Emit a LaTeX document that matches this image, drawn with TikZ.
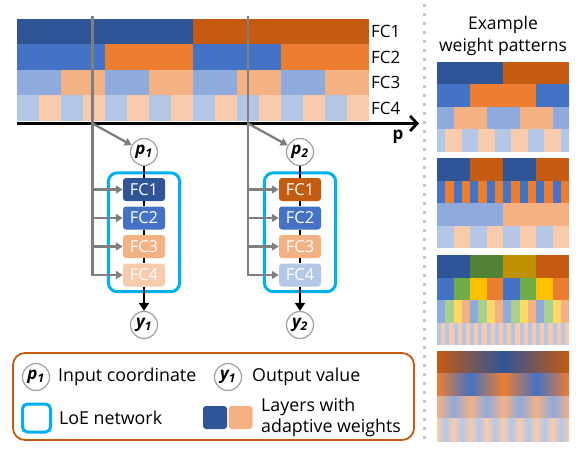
\documentclass[tikz,border=0pt]{standalone}
\usepackage{fontspec}
\setmainfont{Open Sans}
\usetikzlibrary{arrows.meta,fit}

\definecolor{dblue}{HTML}{2F5597}
\definecolor{dorange}{HTML}{C55A11}
\definecolor{mblue}{HTML}{4472C4}
\definecolor{morange}{HTML}{ED7D31}
\definecolor{lblue}{HTML}{8FAADC}
\definecolor{lorange}{HTML}{F4B183}
\definecolor{llblue}{HTML}{B4C7E7}
\definecolor{llorange}{HTML}{F8CBAD}
\definecolor{dgreen}{HTML}{548235}
\definecolor{mgreen}{HTML}{70AD47}
\definecolor{lgreen}{HTML}{A9D18E}
\definecolor{dgold}{HTML}{BF9000}
\definecolor{mgold}{HTML}{FFC000}
\definecolor{lgold}{HTML}{FFD966}
\definecolor{loe}{HTML}{00B0F0}
\definecolor{feedgray}{HTML}{7F7F7F}

\begin{document}
\begin{tikzpicture}[x=1pt,y=-1pt,
    fcbox/.style={rounded corners=3pt,minimum width=42pt,minimum height=23pt,inner sep=0pt,text=white,font=\fontsize{16.5}{16.5}\selectfont},
    io/.style={circle,draw=gray!75,line width=1.2pt,fill=white,minimum size=27pt,inner sep=0pt,font=\fontsize{17}{17}\selectfont\bfseries\itshape},
    loebox/.style={draw=loe,line width=3pt,rounded corners=9pt,inner xsep=14.5pt,inner ysep=5pt},
    feed/.style={draw=feedgray,line width=2.3pt,-{Triangle[length=7pt,width=8pt]}},
    link/.style={line width=2.8pt},
    lbl/.style={font=\fontsize{17}{17}\selectfont,anchor=west,inner sep=0pt},
    txt/.style={font=\fontsize{17.8}{21}\selectfont,anchor=west,inner sep=0pt,align=left}]

\useasboundingbox (0,0) rectangle (585,449);

% weight bars along p
\foreach \y/\h/\w/\ca/\cb in {19/1/176/dblue/dorange,44.5/2/88/mblue/morange,70/4/44/lblue/lorange,95.5/8/22/llblue/llorange}
  \foreach \i in {1,...,\h}{
    \fill[\ca] ({17+(2*\i-2)*\w},\y) rectangle ++(\w,25.5);
    \fill[\cb] ({17+(2*\i-1)*\w},\y) rectangle ++(\w,25.5);
  }
\foreach \k/\y in {1/31.5,2/57,3/82.5,4/108}
  \node[lbl] (fc\k) at (371,\y) {FC\k};

% axis
\coordinate (ax0) at (17,123.5);
\coordinate (ax1) at (419,123.5);
\draw[link,-{Straight Barb[length=7pt,width=15pt]}] (ax0) -- (ax1);
\node[font=\fontsize{17}{17}\selectfont\bfseries] (p) at (398,137) {p};

% two LoE networks
\foreach \n/\x/\g/\ca/\cb/\cc/\cd in {1/144/92.5/dblue/mblue/lorange/llorange,2/300/248/dorange/mblue/lorange/llblue}{
  \node[io] (p\n) at (\x,152) {p\textsubscript{\n}};
  \node[fcbox,fill=\ca] (a\n1) at (\x,189.5) {FC1};
  \node[fcbox,fill=\cb] (a\n2) at (\x,218) {FC2};
  \node[fcbox,fill=\cc] (a\n3) at (\x,246.5) {FC3};
  \node[fcbox,fill=\cd] (a\n4) at (\x,275) {FC4};
  \node[loebox,fit=(a\n1)(a\n4)] (net\n) {};
  \node[io] (y\n) at (\x,325) {y\textsubscript{\n}};
  \draw[link] (p\n) -- (a\n1) -- (a\n2) -- (a\n3) -- (a\n4);
  \draw[link,-{Triangle[length=8pt,width=10pt]}] (a\n4) -- (y\n);
  \coordinate (t\n) at (\g,16);
  \coordinate (c\n) at (\g,123.5);
  \draw[feed] (t\n) |- (a\n4);
  \foreach \k in {1,2,3}
    \draw[feed] (t\n |- a\n\k) -- (a\n\k);
  \draw[feed] (c\n) -- (p\n);
}

% legend
\draw[dorange,line width=1.8pt,rounded corners=12pt] (13,353) rectangle (414,440);
\node[io] (lp) at (36,377) {p\textsubscript{1}};
\node[txt] (lpt) at (58,377) {Input coordinate};
\node[io] (ly) at (228,377) {y\textsubscript{1}};
\node[txt] (lyt) at (252,377) {Output value};
\node[draw=loe,line width=3pt,rounded corners=5pt,minimum size=28pt] (lnet) at (36.5,418) {};
\node[txt] (lnett) at (59,418) {LoE network};
\node[fill=dblue,rounded corners=3pt,minimum width=24pt,minimum height=23pt] (lw1) at (215,417.5) {};
\node[fill=lorange,rounded corners=3pt,minimum width=24pt,minimum height=23pt] (lw2) at (240.5,417.5) {};
\node[txt] (lwt) at (261,417.5) {Layers with\\adaptive weights};

% example patterns
\draw[gray!45,line width=3pt,dash pattern=on 3pt off 6pt] (424,4) -- (424,440);
\node[align=center,font=\fontsize{17.5}{22}\selectfont] (title) at (503,36) {Example\\weight patterns};

\begin{scope}
  \clip (437,0) rectangle (569,449);
  \foreach \y/\x/\w/\h/\ca/\cb in {62/437/66/1/dblue/dorange,84.5/404/66/2/mblue/morange,107/420.5/33/3/lblue/lorange,129.5/428.75/16.5/5/llblue/llorange,
      158/437/33/2/dblue/dorange,180.5/437/8.25/8/mblue/morange,203/437/66/1/lblue/lorange,225.5/437/16.5/4/llblue/llorange,
      322.5/437/4.125/16/llblue/llorange}
    \foreach \i in {1,...,\h}{
      \fill[\ca] ({\x+(2*\i-2)*\w},\y) rectangle ++(\w,22.5);
      \fill[\cb] ({\x+(2*\i-1)*\w},\y) rectangle ++(\w,22.5);
    }
  \foreach \y/\w/\h/\ca/\cb/\cc/\cd in {255/33/1/dblue/dgreen/dgold/dorange,277.5/16.5/2/mblue/mgreen/mgold/morange,300/8.25/4/lblue/lgreen/lgold/lorange}
    \foreach \i in {1,...,\h}{
      \fill[\ca] ({437+(4*\i-4)*\w},\y) rectangle ++(\w,22.5);
      \fill[\cb] ({437+(4*\i-3)*\w},\y) rectangle ++(\w,22.5);
      \fill[\cc] ({437+(4*\i-2)*\w},\y) rectangle ++(\w,22.5);
      \fill[\cd] ({437+(4*\i-1)*\w},\y) rectangle ++(\w,22.5);
    }
  \foreach \y/\w/\h/\ca/\cb in {351/66/1/dorange/dblue,373.5/33/2/morange/mblue,396/16.5/4/lorange/lblue,418.5/8.25/8/llorange/llblue}
    \foreach \i in {1,...,\h}{
      \shade[left color=\ca,right color=\cb] ({437+(2*\i-2)*\w},\y) rectangle ++(\w+0.3,22.5);
      \shade[left color=\cb,right color=\ca] ({437+(2*\i-1)*\w},\y) rectangle ++(\w+0.3,22.5);
    }
\end{scope}
\end{tikzpicture}
\end{document}
